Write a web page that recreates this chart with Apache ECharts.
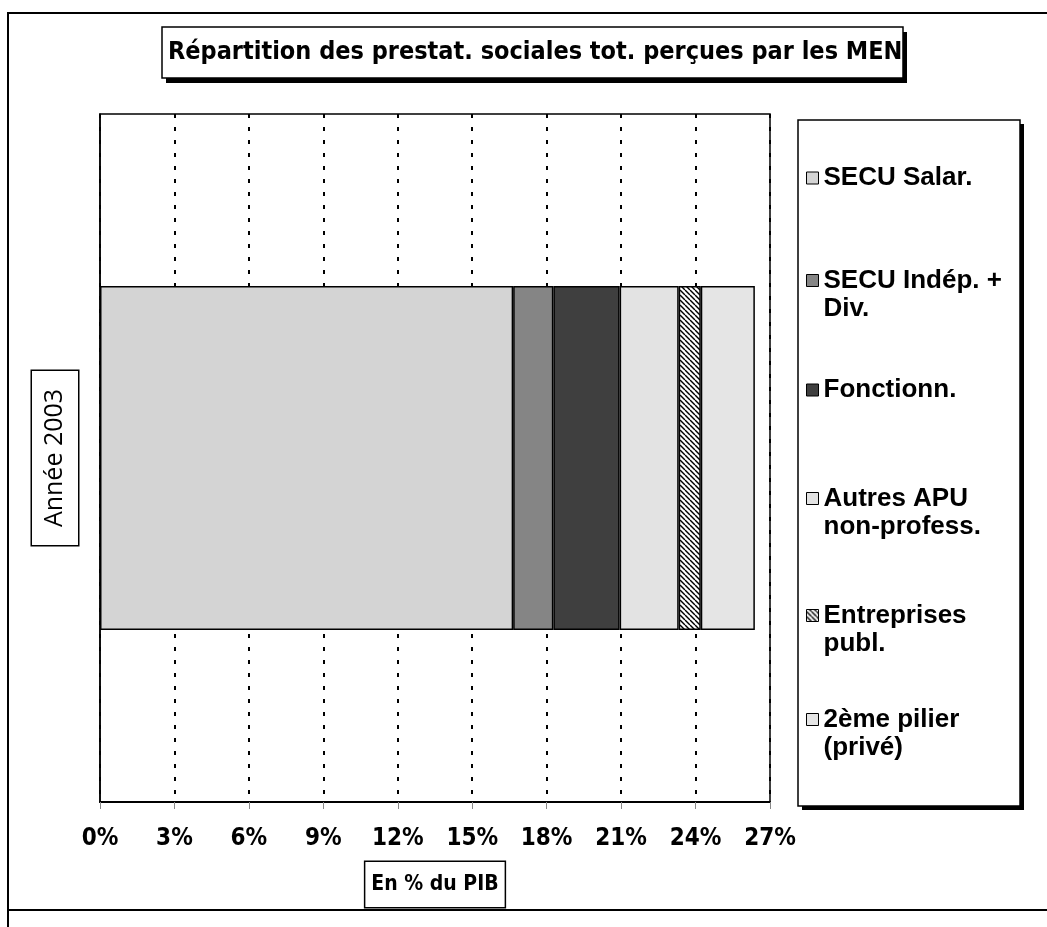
<!DOCTYPE html>
<html>
<head>
<meta charset="utf-8">
<script src="https://cdn.jsdelivr.net/npm/echarts@6/dist/echarts.min.js"></script>
<style>
  html, body { margin: 0; padding: 0; background: #fff; }
  #chart { width: 1047px; height: 927px; }
</style>
</head>
<body>
<div id="chart"></div>
<script>
// data (share of GDP, %)
const categories = ['2003'];
const seriesNames = [
  'SECU Salar.',
  'SECU Indép. +\nDiv.',
  'Fonctionn.',
  'Autres APU\nnon-profess.',
  'Entreprises\npubl.',
  '2ème pilier\n(privé)'
];
const values2003 = [16.65, 1.62, 2.67, 2.38, 0.89, 2.18];
const xTicks = { min: 0, max: 27, step: 3 };

// look
const fills = ['#d4d4d4', '#858585', '#3f3f3f', '#e3e3e3', null, '#e5e5e5'];
const legendY = [178, 280, 390, 498, 615, 719]; // centre of first line of each legend entry
const narrow = "'Liberation Sans Narrow', 'DejaVu Sans Condensed', sans-serif";
const wide = "'Liberation Sans', Arial, sans-serif";

// hatch pattern for "Entreprises publ."
function hatch() {
  const s = 5;
  const c = document.createElement('canvas');
  c.width = s; c.height = s;
  const g = c.getContext('2d');
  g.fillStyle = '#fff';
  g.fillRect(0, 0, s, s);
  g.strokeStyle = '#000';
  g.lineWidth = 1.4;
  for (const x0 of [-s, 0, s]) {
    g.beginPath();
    g.moveTo(x0, 0);
    g.lineTo(x0 + s, s);
    g.stroke();
  }
  return { image: c, repeat: 'repeat' };
}

const chart = echarts.init(document.getElementById('chart'), null, { renderer: 'canvas' });

// one legend per entry so every entry sits where the original has it
const lineH = 28;
const box = 12;
const legends = seriesNames.map((n, i) => {
  const twoLine = n.indexOf('\n') >= 0;
  const h = twoLine ? 2 * lineH : box;
  // square on the first text line, the empty moveTo stretches the icon box to two lines
  const a = lineH / 2 - box / 2;
  const icon = twoLine
    ? 'path://M0,0M0,' + a + 'H' + box + 'V' + (a + box) + 'H0Z' + 'M' + box + ',' + h
    : 'rect';
  return {
    data: [n],
    left: 806,
    top: legendY[i] - lineH / 2,
    padding: 0,
    icon: icon,
    itemWidth: box,
    itemHeight: h,
    selectedMode: false,
    itemStyle: { borderColor: '#000', borderWidth: 1 },
    textStyle: { fontFamily: wide, fontWeight: 'bold', fontSize: 26, color: '#000', lineHeight: lineH }
  };
});

const option = {
  backgroundColor: '#fff',
  animation: false,
  title: {
    text: 'Répartition des prestat. sociales tot. perçues par les MEN',
    left: 168,
    top: 37,
    padding: 0,
    textStyle: { fontFamily: narrow, fontWeight: 'bold', fontSize: 25, color: '#000', lineHeight: 31 }
  },
  legend: legends,
  graphic: [
    // outer frame
    { type: 'rect', z: -10, shape: { x: 8, y: 13, width: 1100, height: 897 },
      style: { fill: 'none', stroke: '#000', lineWidth: 2 } },
    { type: 'line', z: -10, shape: { x1: 8, y1: 910, x2: 8, y2: 927 },
      style: { stroke: '#000', lineWidth: 2 } },
    // title box and its shadow
    { type: 'rect', z: -6, shape: { x: 166, y: 32, width: 741, height: 51 }, style: { fill: '#000' } },
    { type: 'rect', z: -5, shape: { x: 162, y: 27, width: 741, height: 51 },
      style: { fill: '#fff', stroke: '#000', lineWidth: 1.5 } },
    // legend box and its shadow
    { type: 'rect', z: -6, shape: { x: 802, y: 124, width: 222, height: 686 }, style: { fill: '#000' } },
    { type: 'rect', z: -5, shape: { x: 798, y: 120, width: 222, height: 686 },
      style: { fill: '#fff', stroke: '#000', lineWidth: 1.5 } }
  ],
  grid: {
    left: 100, right: 277, top: 114, bottom: 125,
    show: true, borderColor: '#000', borderWidth: 1.5, backgroundColor: 'transparent',
    containLabel: false
  },
  xAxis: {
    type: 'value',
    min: xTicks.min, max: xTicks.max, interval: xTicks.step,
    name: 'En % du PIB',
    nameLocation: 'middle',
    nameGap: 60,
    nameTextStyle: {
      fontFamily: narrow, fontWeight: 'bold', fontSize: 21, color: '#000', lineHeight: 25,
      borderColor: '#000', borderWidth: 1.5, padding: [10, 6, 10, 6], backgroundColor: '#fff'
    },
    axisLine: { show: true, lineStyle: { color: '#000', width: 2 } },
    axisTick: { show: true, length: 7, lineStyle: { color: '#888', width: 1 } },
    axisLabel: { formatter: '{value}%', margin: 25, fontFamily: narrow, fontWeight: 'bold', fontSize: 24, color: '#000' },
    splitLine: { show: true, lineStyle: { color: '#000', width: 2, type: [4, 9] } }
  },
  yAxis: {
    type: 'category',
    data: categories,
    name: 'Année 2003',
    nameLocation: 'middle',
    nameRotate: 90,
    nameGap: 22,
    nameTextStyle: {
      fontFamily: "'Open Sans', Lato, sans-serif", fontSize: 25, color: '#000', lineHeight: 34,
      borderColor: '#000', borderWidth: 1.5, padding: [6, 18, 6, 18], backgroundColor: '#fff'
    },
    axisLine: { show: true, lineStyle: { color: '#000', width: 1.5 } },
    axisTick: { show: false },
    axisLabel: { show: false },
    splitLine: { show: false }
  },
  series: seriesNames.map((n, i) => ({
    name: n,
    type: 'bar',
    stack: 'total',
    barWidth: '50%',
    data: [values2003[i]],
    itemStyle: { color: fills[i] || hatch(), borderColor: '#000', borderWidth: 1.5 }
  }))
};

chart.setOption(option);
</script>
</body>
</html>
